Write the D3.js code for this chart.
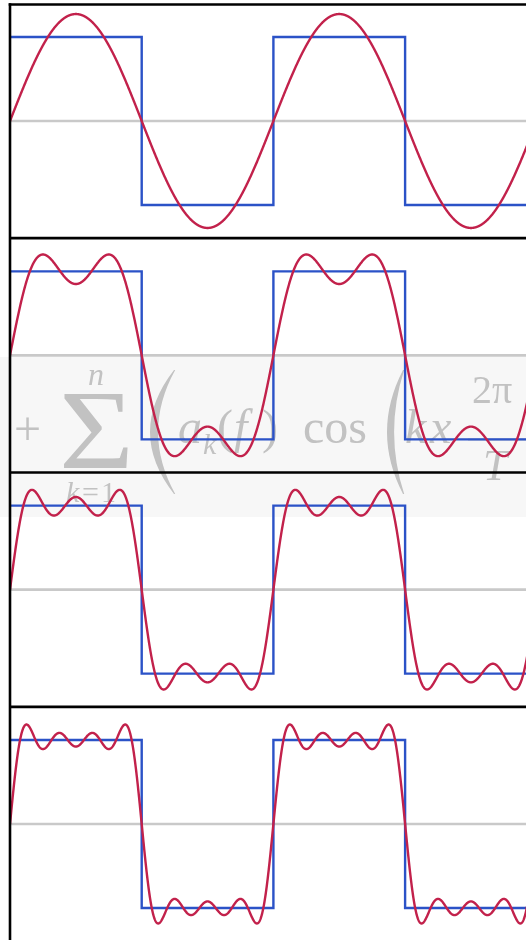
<!DOCTYPE html>
<html>
<head>
<meta charset="utf-8">
<script src="https://cdn.jsdelivr.net/npm/d3@7"></script>
<style>
  html, body { margin: 0; padding: 0; background: #fff; overflow: hidden; }
  svg { display: block; }
</style>
</head>
<body>
<svg id="chart" width="526" height="940"></svg>
<script>
// Odd harmonics summed in each panel, top to bottom
const termCounts = [1, 2, 3, 4];
// Square wave level on each half period
const squareLevels = [1, -1, 1, -1];
// Half-period boundaries, measured in periods
const squareEdges = [0, 0.5, 1, 1.5, 2];
// Level of the zero reference line
const baselineLevel = [0];

const W = 526, H = 940;
const left = 10;
const periodPx = 263.4;
const panelStep = 234.33;
const firstCenter = 121;
const halfSquarePx = 84;

const svg = d3.select("#chart");
const defs = svg.append("defs");

const x = d3.scaleLinear().domain([0, 2]).range([left, left + 2 * periodPx]);

// Fourier partial sum of the square wave with n odd harmonics
function partialSum(t, n) {
  let s = 0;
  for (let k = 1; k <= n; k++) {
    const m = 2 * k - 1;
    s += Math.sin(2 * Math.PI * m * t) / m;
  }
  return 4 / Math.PI * s;
}

defs.append("clipPath").attr("id", "plotClip")
  .append("rect").attr("x", left).attr("y", 0).attr("width", W - left).attr("height", H);

const blur = defs.append("filter").attr("id", "soft")
  .attr("x", "-5%").attr("y", "-5%").attr("width", "110%").attr("height", "110%");
blur.append("feGaussianBlur").attr("stdDeviation", 0.6);

// Formula band behind the second panel's curves
const fx = svg.append("g");
fx.append("rect").attr("x", 0).attr("y", 357).attr("width", W).attr("height", 160)
  .attr("fill", "#f7f7f7");
const ftxt = fx.append("g").attr("fill", "#c2c2c2").attr("filter", "url(#soft)")
  .attr("font-family", "'Liberation Serif', 'DejaVu Serif', serif");
function tx(str, xx, yy, size, italic) {
  ftxt.append("text").attr("x", xx).attr("y", yy).attr("font-size", size)
    .attr("font-style", italic ? "italic" : "normal").text(str);
}
function paren(xTip, xOut, xIn, yTop, yBot) {
  const ym = (yTop + yBot) / 2;
  ftxt.append("path").attr("d",
    `M${xTip},${yTop} Q${xOut},${ym} ${xTip},${yBot} L${xTip + 1.2},${yBot} Q${xIn},${ym} ${xTip + 1.2},${yTop} Z`);
}
tx("+", 14, 445, 48, false);
ftxt.append("text").attr("x", 0).attr("y", 0).attr("font-size", 112)
  .attr("transform", "translate(59,468) scale(1.15,1)").text("\u03A3");
tx("n", 88, 385, 32, true);
tx("k", 66, 502, 30, true);
tx("=", 82, 502, 30, false);
tx("1", 101, 502, 30, false);
paren(174, 126, 141, 370, 494);
tx("a", 178, 443, 48, true);
tx("k", 203, 454, 30, true);
tx("(", 217, 443, 48, false);
tx("f", 234, 443, 48, true);
tx(")", 262, 443, 48, false);
tx("cos", 303, 443, 48, false);
paren(403, 371, 384, 370, 494);
tx("k", 405, 443, 48, true);
tx("x", 430, 443, 48, true);
tx("2\u03C0", 472, 403, 40, false);
ftxt.append("rect").attr("x", 468).attr("y", 438.5).attr("width", 70).attr("height", 2);
tx("T", 483, 480, 44, true);

const root = svg.append("g").attr("clip-path", "url(#plotClip)");

const panelCenters = termCounts.map((_, i) => firstCenter + i * panelStep);

// Zero lines
panelCenters.forEach(c => {
  const y = d3.scaleLinear().domain([-1, 1]).range([c + halfSquarePx, c - halfSquarePx]);
  root.selectAll(null).data(baselineLevel).enter().append("line")
    .attr("x1", left).attr("x2", W)
    .attr("y1", d => y(d)).attr("y2", d => y(d))
    .attr("stroke", "#c9c9c9").attr("stroke-width", 2.6);
});

// Square waves and partial sums
const samples = d3.range(0, 2.0001, 1 / 1200);

termCounts.forEach((n, i) => {
  const c = panelCenters[i];
  const y = d3.scaleLinear().domain([-1, 1]).range([c + halfSquarePx, c - halfSquarePx]);

  const sq = [];
  squareLevels.forEach((lv, j) => {
    sq.push([squareEdges[j], lv]);
    sq.push([squareEdges[j + 1], lv]);
  });
  root.append("path")
    .attr("d", d3.line().x(d => x(d[0])).y(d => y(d[1]))(sq))
    .attr("fill", "none").attr("stroke", "#2b52c7").attr("stroke-width", 2.4)
    .attr("stroke-linejoin", "miter");

  root.append("path")
    .attr("d", d3.line().x(t => x(t)).y(t => y(partialSum(t, n)))(samples))
    .attr("fill", "none").attr("stroke", "#c2214b").attr("stroke-width", 2.4)
    .attr("stroke-linejoin", "round");
});

// Frame: top edge, left edge and panel separators
const frame = svg.append("g").attr("stroke", "#000").attr("stroke-width", 2.6);
frame.append("line").attr("x1", left - 1.3).attr("x2", W).attr("y1", 4.5).attr("y2", 4.5);
frame.append("line").attr("x1", left).attr("x2", left).attr("y1", 3.2).attr("y2", H);
frame.selectAll(null).data(panelCenters.slice(0, -1)).enter().append("line")
  .attr("x1", left).attr("x2", W)
  .attr("y1", d => d + panelStep / 2).attr("y2", d => d + panelStep / 2);
</script>
</body>
</html>
